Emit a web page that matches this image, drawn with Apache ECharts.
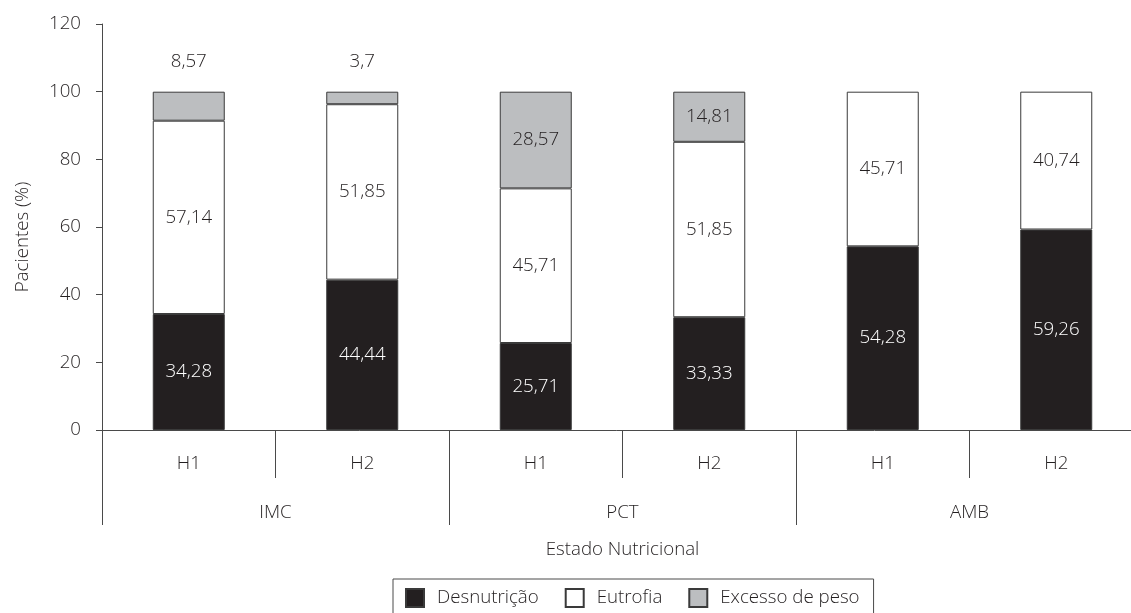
<!DOCTYPE html>
<html>
<head>
<meta charset="utf-8">
<title>Estado Nutricional</title>
<script src="https://cdn.jsdelivr.net/npm/echarts@6/dist/echarts.min.js"></script>
<style>
  html, body { margin: 0; padding: 0; background: #ffffff; }
  #chart { width: 1131px; height: 613px; }
</style>
</head>
<body>
<div id="chart"></div>
<script>
// Period of assessment for each bar, and the indicator groups they belong to
const periods = ['H1', 'H2', 'H1', 'H2', 'H1', 'H2'];
const indicators = ['IMC', 'PCT', 'AMB'];

// Percentage of patients in each nutritional state
const desnutricao = [34.28, 44.44, 25.71, 33.33, 54.28, 59.26];
const eutrofia = [57.14, 51.85, 45.71, 51.85, 45.71, 40.74];
const excessoPeso = [8.57, 3.7, 28.57, 14.81, 0, 0];

// Value axis range
const yMin = 0;
const yMax = 120;
const yStep = 20;

const INK = '#231f20';
const LINE = '#4a4a4a';
const FONT = '"Open Sans", "Noto Sans", sans-serif';
const WEIGHT = 300;
const SIZE = 18.7;

// Decimal comma, empty for missing segments
function fmt(v) {
  return v ? String(v).replace('.', ',') : '';
}

function segment(name, values, fill, textColor) {
  return {
    name: name,
    type: 'bar',
    stack: 'estado',
    xAxisIndex: 0,
    barWidth: 72,
    data: values.map(function (v) {
      if (!(v > 0)) return '-';
      // Segments too thin for their own label carry it above the bar
      return v < 10
        ? { value: v, label: { position: 'top', distance: 21, color: INK } }
        : { value: v };
    }),
    itemStyle: { color: fill, borderColor: '#3a3a3a', borderWidth: 1 },
    label: {
      show: true,
      position: 'inside',
      color: textColor,
      fontFamily: FONT,
      fontWeight: WEIGHT,
      fontSize: SIZE,
      formatter: function (p) { return fmt(p.value); }
    }
  };
}

const chart = echarts.init(document.getElementById('chart'), null, { renderer: 'canvas' });

const axisText = { fontFamily: FONT, fontWeight: WEIGHT, fontSize: SIZE, color: INK };

chart.setOption({
  animation: false,
  backgroundColor: '#ffffff',
  textStyle: { fontFamily: FONT, color: INK },
  grid: { left: 102, top: 24, width: 1041, height: 406, outerBoundsMode: 'none', containLabel: false },
  legend: {
    left: 393,
    top: 579,
    padding: [9, 14, 14, 12],
    itemWidth: 18,
    itemHeight: 18,
    itemGap: 26,
    icon: 'rect',
    borderColor: LINE,
    borderWidth: 1,
    textStyle: { fontFamily: FONT, fontWeight: WEIGHT, fontSize: SIZE, color: INK, padding: [0, 0, 0, 8] },
    data: ['Desnutrição', 'Eutrofia', 'Excesso de peso']
  },
  xAxis: [
    {
      type: 'category',
      data: periods,
      position: 'bottom',
      axisLine: { lineStyle: { color: LINE, width: 1 } },
      axisTick: { show: true, length: 48, lineStyle: { color: LINE } },
      axisLabel: Object.assign({ margin: 24 }, axisText)
    },
    {
      type: 'category',
      data: indicators,
      position: 'bottom',
      axisLine: { show: false },
      axisTick: { show: true, length: 95, lineStyle: { color: LINE } },
      axisLabel: Object.assign({ margin: 73 }, axisText),
      name: 'Estado Nutricional',
      nameLocation: 'middle',
      nameGap: 110,
      nameTextStyle: axisText
    }
  ],
  yAxis: {
    type: 'value',
    min: yMin,
    max: yMax,
    interval: yStep,
    name: 'Pacientes (%)',
    nameLocation: 'middle',
    nameRotate: 90,
    nameGap: 70,
    nameTextStyle: Object.assign({ padding: [0, 20, 0, 0] }, axisText),
    axisLine: { show: true, lineStyle: { color: LINE, width: 1 } },
    axisTick: { show: true, length: 6, lineStyle: { color: LINE } },
    splitLine: { show: false },
    axisLabel: Object.assign({ margin: 21 }, axisText)
  },
  series: [
    segment('Desnutrição', desnutricao, INK, '#ffffff'),
    segment('Eutrofia', eutrofia, '#ffffff', INK),
    segment('Excesso de peso', excessoPeso, '#bcbec0', INK)
  ]
});
</script>
</body>
</html>
